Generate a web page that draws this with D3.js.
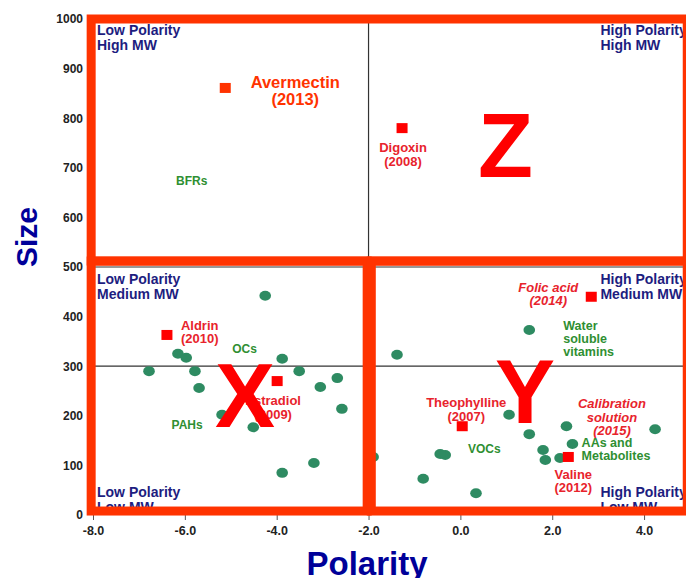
<!DOCTYPE html>
<html>
<head>
<meta charset="utf-8">
<script src="https://cdn.jsdelivr.net/npm/d3@7"></script>
<style>
  body { margin: 0; background: #fff; }
  svg { display: block; font-family: Arial, "Liberation Sans", sans-serif; }
</style>
</head>
<body>
<div id="chart"></div>
<script>
// Data for the chart
const xTicks = [-8, -6, -4, -2, 0, 2, 4];
const yTicks = [0, 100, 200, 300, 400, 500, 600, 700, 800, 900, 1000];

// green dots: compound classes
const classPoints = [
    { polarity: -4.25, size: 442 },
    { polarity: -6.15, size: 325 },
    { polarity: -5.97, size: 317 },
    { polarity: -6.78, size: 290 },
    { polarity: -5.78, size: 290 },
    { polarity: -5.69, size: 256 },
    { polarity: -3.88, size: 315 },
    { polarity: -3.51, size: 290 },
    { polarity: -2.68, size: 276 },
    { polarity: -3.05, size: 258 },
    { polarity: -2.58, size: 214 },
    { polarity: -5.19, size: 202 },
    { polarity: -4.51, size: 177 },
    { polarity: -3.88, size: 85 },
    { polarity: -3.19, size: 105 },
    { polarity: -1.38, size: 323 },
    { polarity: 1.50, size: 373 },
    { polarity: 1.06, size: 202 },
    { polarity: 1.50, size: 163 },
    { polarity: 2.31, size: 179 },
    { polarity: 2.44, size: 143 },
    { polarity: 4.24, size: 173 },
    { polarity: 1.80, size: 131 },
    { polarity: 1.85, size: 111 },
    { polarity: 2.17, size: 115 },
    { polarity: -0.33, size: 121 },
    { polarity: -0.44, size: 123 },
    { polarity: -0.81, size: 73 },
    { polarity: 0.34, size: 44 },
    { polarity: -1.90, size: 117 }
];

// red squares: analytes with year
const analytes = [
    { name: 'Avermectin', year: '(2013)', polarity: -5.12, size: 861 },
    { name: 'Digoxin', year: '(2008)', polarity: -1.27, size: 780 },
    { name: 'Aldrin', year: '(2010)', polarity: -6.39, size: 363 },
    { name: 'Estradiol', year: '(2009)', polarity: -3.99, size: 270 },
    { name: 'Folic acid', year: '(2014)', polarity: 2.85, size: 440 },
    { name: 'Theophylline', year: '(2007)', polarity: 0.04, size: 179 },
    { name: 'Valine', year: '(2012)', polarity: 2.35, size: 117 }
];

const classLabels = [
    { lines: ['BFRs'], polarity: -5.85, size: 665 },
    { lines: ['OCs'], polarity: -4.7, size: 326 },
    { lines: ['PAHs'], polarity: -5.95, size: 174 },
    { lines: ['VOCs'], polarity: 0.52, size: 125 },
    { lines: ['Water', 'soluble', 'vitamins'], polarity: 2.24, size: 373 },
    { lines: ['AAs and', 'Metabolites'], polarity: 2.64, size: 137 }
];

const quadrantLabels = [
    ['Low Polarity', 'High MW'],
    ['High Polarity', 'High MW'],
    ['Low Polarity', 'Medium MW'],
    ['High Polarity', 'Medium MW'],
    ['Low Polarity', 'Low MW'],
    ['High Polarity', 'Low MW']
];

// highlighted zones
const zones = [
    { letter: 'Z', x0: -8.04, x1: 4.94, y0: 512, y1: 1000 },
    { letter: 'X', x0: -8.04, x1: -2.03, y0: 8, y1: 512 },
    { letter: 'Y', x0: -1.94, x1: 4.94, y0: 8, y1: 512 }
];

function drawChart() {
    const width = 686;
    const height = 578;

    const svg = d3.select("#chart")
        .append("svg")
        .attr("width", width)
        .attr("height", height);

    const x = d3.scaleLinear().domain([-8, 5]).range([93, 690]);
    const y = d3.scaleLinear().domain([0, 1000]).range([515, 19]);

    // axes
    const yAxis = svg.append("g")
        .attr("transform", `translate(${x(-8)},0)`)
        .call(d3.axisLeft(y).tickValues(yTicks).tickFormat(d3.format("d")).tickSize(0).tickPadding(10));
    yAxis.select(".domain").remove();
    yAxis.selectAll("text")
        .attr("font-size", 12).attr("font-weight", "bold").attr("fill", "#222");

    const xAxis = svg.append("g")
        .attr("transform", `translate(0,${y(0)})`)
        .call(d3.axisBottom(x).tickValues(xTicks).tickFormat(d3.format(".1f")).tickSize(5).tickPadding(6));
    xAxis.select(".domain").remove();
    xAxis.selectAll("line").attr("stroke", "#555");
    xAxis.selectAll("text")
        .attr("font-size", 12.5).attr("font-weight", "bold").attr("fill", "#222")
        .text(d => d3.format(".1f")(d).replace("−", "-"));

    // quadrant divider lines
    const lines = svg.append("g").attr("stroke", "#333").attr("stroke-width", 1.2);
    lines.append("line")
        .attr("x1", x(-8)).attr("x2", x(5)).attr("y1", y(300)).attr("y2", y(300));
    lines.append("line")
        .attr("x1", x(-8)).attr("x2", x(5)).attr("y1", y(500)).attr("y2", y(500));
    lines.append("line")
        .attr("x1", x(-2)).attr("x2", x(-2)).attr("y1", y(1000)).attr("y2", y(0));

    // quadrant labels
    const qPos = [
        [x(-8) + 4, y(1000) + 16], [x(3.05), y(1000) + 16],
        [x(-8) + 4, y(500) + 17], [x(3.05), y(500) + 17],
        [x(-8) + 4, y(0) - 18], [x(3.05), y(0) - 18]
    ];
    quadrantLabels.forEach((lab, i) => {
        const t = svg.append("text")
            .attr("x", qPos[i][0]).attr("y", qPos[i][1])
            .attr("font-size", 14).attr("font-weight", "bold").attr("fill", "#1d1d80");
        lab.forEach((s, j) => t.append("tspan").attr("x", qPos[i][0]).attr("dy", j ? 15 : 0).text(s));
    });

    // green dots
    svg.selectAll(".dot")
        .data(classPoints)
        .enter().append("ellipse")
        .attr("class", "dot")
        .attr("cx", d => x(d.polarity))
        .attr("cy", d => y(d.size))
        .attr("rx", 5.8).attr("ry", 5)
        .attr("fill", "#2e8b62");

    // class labels
    classLabels.forEach(c => {
        const multi = c.lines.length > 1;
        const t = svg.append("text")
            .attr("x", x(c.polarity)).attr("y", y(c.size))
            .attr("text-anchor", multi ? "start" : "middle")
            .attr("font-size", multi ? 12.5 : 12).attr("font-weight", "bold").attr("fill", "#2f8f32");
        c.lines.forEach((s, j) => t.append("tspan").attr("x", x(c.polarity)).attr("dy", j ? 13 : 0).text(s));
    });

    // red squares
    svg.selectAll(".sq")
        .data(analytes)
        .enter().append("rect")
        .attr("class", "sq")
        .attr("x", d => x(d.polarity) - 5.5)
        .attr("y", d => y(d.size) - 5)
        .attr("width", 11).attr("height", 10)
        .attr("fill", d => d.name === 'Avermectin' ? "#ff3300" : "#ff0000");

    // analyte labels (offset from their marker)
    const labelOffset = {
        'Avermectin': [70, 0, 'middle'],
        'Digoxin': [1, 24, 'middle'],
        'Aldrin': [14, -5, 'start'],
        'Estradiol': [-4, 24, 'middle'],
        'Folic acid': [-43, -5, 'middle'],
        'Theophylline': [4, -19, 'middle'],
        'Valine': [5, 22, 'middle']
    };
    analytes.forEach(a => {
        const o = labelOffset[a.name];
        const px = x(a.polarity) + o[0];
        const t = svg.append("text")
            .attr("x", px).attr("y", y(a.size) + o[1])
            .attr("text-anchor", o[2])
            .attr("font-weight", "bold")
            .attr("font-size", a.name === 'Avermectin' ? 16.5 : 13)
            .attr("font-style", a.name === 'Folic acid' ? "italic" : null)
            .attr("fill", a.name === 'Avermectin' ? "#ff3300" : "#e8232c");
        t.append("tspan").attr("x", px).text(a.name);
        t.append("tspan").attr("x", px).attr("dy", a.name === 'Avermectin' ? 17 : 13.5).text(a.year);
    });

    // calibration solution note
    const cal = svg.append("text")
        .attr("x", x(3.3)).attr("y", y(215))
        .attr("text-anchor", "middle")
        .attr("font-size", 13).attr("font-weight", "bold").attr("font-style", "italic")
        .attr("fill", "#e8232c");
    ['Calibration', 'solution', '(2015)'].forEach((s, j) =>
        cal.append("tspan").attr("x", x(3.3)).attr("dy", j ? 13.5 : 0).text(s));

    // zone rectangles
    svg.selectAll(".zone")
        .data(zones)
        .enter().append("rect")
        .attr("class", "zone")
        .attr("x", d => x(d.x0))
        .attr("y", d => y(d.y1))
        .attr("width", d => x(d.x1) - x(d.x0))
        .attr("height", d => y(d.y0) - y(d.y1))
        .attr("fill", "none")
        .attr("stroke", "#ff3300")
        .attr("stroke-width", 9);

    // zone letters
    const letterPos = { 'Z': [x(0.98), y(682)], 'X': [x(-4.69), y(177)], 'Y': [x(1.41), y(186)] };
    zones.forEach(z => {
        svg.append("text")
            .attr("x", letterPos[z.letter][0])
            .attr("y", letterPos[z.letter][1])
            .attr("text-anchor", "middle")
            .attr("font-size", 90).attr("font-weight", "bold")
            .attr("fill", "#ff0000")
            .text(z.letter);
    });

    // axis titles
    svg.append("text")
        .attr("transform", "translate(37,237) rotate(-90)")
        .attr("text-anchor", "middle")
        .attr("font-size", 30).attr("font-weight", "bold").attr("fill", "#000099")
        .text("Size");

    svg.append("text")
        .attr("x", 367).attr("y", 575)
        .attr("text-anchor", "middle")
        .attr("font-size", 33).attr("font-weight", "bold").attr("fill", "#000099")
        .text("Polarity");
}

drawChart();
</script>
</body>
</html>
